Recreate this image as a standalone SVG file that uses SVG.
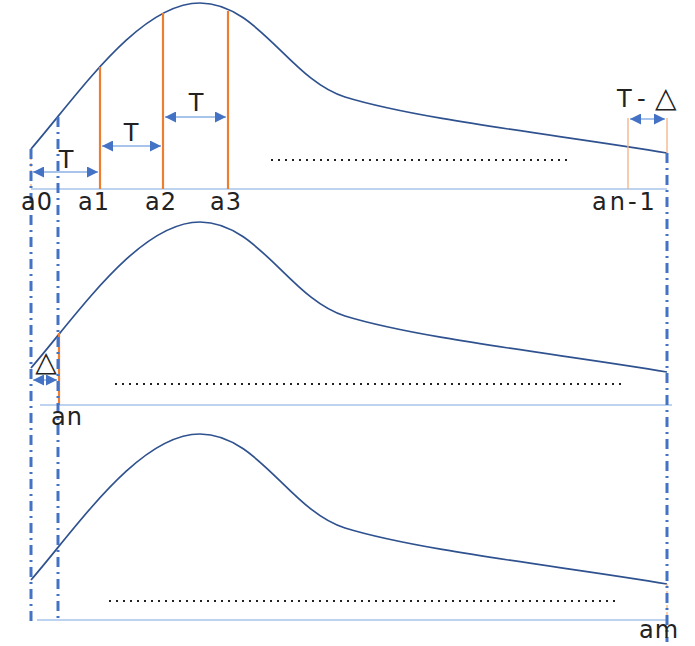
<svg xmlns="http://www.w3.org/2000/svg" width="695" height="646" viewBox="0 0 695 646">
<defs>
<marker id="ahs" viewBox="0 0 10 10" refX="10" refY="5" markerWidth="14" markerHeight="11" orient="auto-start-reverse" markerUnits="userSpaceOnUse">
<path d="M0,0 L10,5 L0,10 z" fill="#4472C4"/>
</marker>
<path id="curve" d="M31,149 C80,92 140,3 200,3 C258,3 290,80 345,97 C420,120 560,135 667,153"/>
</defs>
<style>
.base{stroke:#A9C4EB;stroke-width:1.5;fill:none}
.crv{stroke:#2F528F;stroke-width:1.7;fill:none}
.org{stroke:#ED7D31;stroke-width:2.2;fill:none}
.orgt{stroke:#F4B183;stroke-width:1.3;fill:none}
.dd{stroke:#4472C4;stroke-width:3;stroke-dasharray:10 5 2 5;fill:none}
.arr{stroke:#A9C4EB;stroke-width:2;fill:none;marker-start:url(#ahs);marker-end:url(#ahs)}
.dots{stroke:#222;stroke-width:2;stroke-dasharray:2 5;fill:none}
.lbl{font-family:"DejaVu Sans","Liberation Sans",sans-serif;font-size:24px;fill:#222}
.sp{letter-spacing:1px}
.tri{font-family:"DejaVu Sans",sans-serif;font-size:28px;fill:#222}
</style>
<g id="panel-top">
<line class="base" x1="31" y1="189" x2="667" y2="189"/>
<use href="#curve" class="crv"/>
<line class="orgt" x1="31" y1="149" x2="31" y2="189" stroke-dasharray="4 3"/>
<line class="org" x1="100" y1="67" x2="100" y2="189"/>
<line class="org" x1="163" y1="13" x2="163" y2="189"/>
<line class="org" x1="228" y1="11" x2="228" y2="189"/>
<line class="orgt" x1="628" y1="118" x2="628" y2="189"/>
<line class="orgt" x1="667" y1="118" x2="667" y2="153"/>
<line class="dots" x1="271" y1="160" x2="570" y2="160"/>
</g>
<g id="panel-middle" transform="translate(0,219)">
<line class="base" x1="40" y1="186" x2="672" y2="186"/>
<use href="#curve" class="crv"/>
<line class="org" x1="59" y1="114" x2="59" y2="186"/>
<line class="dots" x1="115" y1="165" x2="625" y2="165"/>
</g>
<g id="panel-bottom" transform="translate(0,431)">
<line class="base" x1="37" y1="189" x2="668" y2="189"/>
<use href="#curve" class="crv"/>
<line class="orgt" x1="667" y1="153" x2="667" y2="189" stroke-dasharray="4 3"/>
<line class="dots" x1="109" y1="170" x2="620" y2="170"/>
</g>
<g id="connectors">
<line class="dd" x1="31" y1="149" x2="31" y2="621"/>
<line class="dd" x1="58" y1="117" x2="58" y2="621"/>
<line class="dd" x1="667" y1="153" x2="667" y2="642"/>
<line class="arr" x1="33" y1="172" x2="98" y2="172"/>
<line class="arr" x1="102" y1="146" x2="161" y2="146"/>
<line class="arr" x1="165" y1="117" x2="226" y2="117"/>
<line class="arr" x1="630" y1="119" x2="665" y2="119"/>
<line class="arr" x1="33" y1="380" x2="57" y2="380"/>
</g>
<g id="labels">
<text class="lbl" x="66" y="168" text-anchor="middle">T</text>
<text class="lbl" x="131" y="141" text-anchor="middle">T</text>
<text class="lbl" x="196" y="111" text-anchor="middle">T</text>
<text class="lbl" x="617" y="107">T<tspan x="637">-</tspan><tspan class="tri" x="655">△</tspan></text>
<text class="tri" x="46" y="371" text-anchor="middle">△</text>
<text class="lbl sp" x="21" y="210">a0</text>
<text class="lbl sp" x="78" y="210">a1</text>
<text class="lbl sp" x="145" y="210">a2</text>
<text class="lbl sp" x="210" y="210">a3</text>
<text class="lbl" x="592" y="210" letter-spacing="3">an-1</text>
<text class="lbl sp" x="51" y="425">an</text>
<text class="lbl sp" x="639" y="638">am</text>
</g>
</svg>
